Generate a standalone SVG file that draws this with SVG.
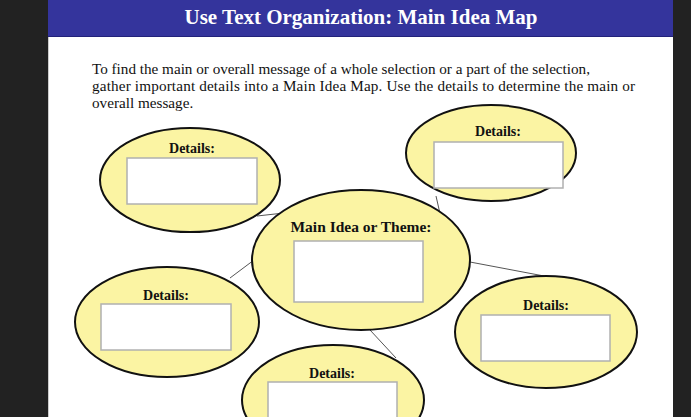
<svg xmlns="http://www.w3.org/2000/svg" width="691" height="417" viewBox="0 0 691 417">
<style>
.bg{fill:#222222}
.hdr{fill:#34349c}
.title{font-family:"Liberation Serif",serif;font-weight:bold;font-size:21px;fill:#ffffff;text-anchor:middle}
.intro{font-family:"Liberation Serif",serif;font-size:15.2px;fill:#111111}
.ell{fill:#fbf4a3;stroke:#111111;stroke-width:2}
.lbl{font-family:"Liberation Serif",serif;font-weight:bold;font-size:14px;fill:#111111;text-anchor:middle}
.mlbl{font-family:"Liberation Serif",serif;font-weight:bold;font-size:15.5px;fill:#111111;text-anchor:middle}
.box{fill:#ffffff;stroke:#b0b0b0;stroke-width:1.5}
.conn line{stroke:#555555;stroke-width:1}
</style>
<rect class="bg" x="0" y="0" width="691" height="417"/>
<rect x="48" y="0" width="625" height="417" fill="#ffffff"/>
<line x1="48.5" y1="37" x2="48.5" y2="417" stroke="#cccccc" stroke-width="1"/>
<rect class="hdr" x="48" y="0" width="625" height="37"/>
<line x1="48" y1="36.5" x2="673" y2="36.5" stroke="#22227a" stroke-width="1"/>
<text class="title" x="361" y="24">Use Text Organization: Main Idea Map</text>
<text class="intro" x="92" y="74" textLength="498">To find the main or overall message of a whole selection or a part of the selection,</text>
<text class="intro" x="92" y="91" textLength="543">gather important details into a Main Idea Map. Use the details to determine the main or</text>
<text class="intro" x="92" y="108">overall message.</text>
<g class="conn">
<line x1="257" y1="216" x2="284" y2="213"/>
<line x1="436" y1="196" x2="441" y2="218"/>
<line x1="230" y1="278" x2="254" y2="260"/>
<line x1="470" y1="262" x2="544" y2="276"/>
<line x1="370" y1="330" x2="396" y2="358"/>
</g>
<g id="details-top-left">
<ellipse class="ell" cx="190" cy="180" rx="90" ry="52"/>
<text class="lbl" x="192" y="153">Details:</text>
<rect class="box" x="127" y="158" width="130" height="46"/>
</g>
<g id="details-top-right">
<ellipse class="ell" cx="491" cy="153" rx="85" ry="48"/>
<text class="lbl" x="498" y="136">Details:</text>
<rect class="box" x="434" y="142" width="129" height="46"/>
</g>
<g id="main-idea">
<ellipse class="ell" cx="361" cy="260" rx="109" ry="70"/>
<text class="mlbl" x="361" y="232">Main Idea or Theme:</text>
<rect class="box" x="294" y="241" width="129" height="61"/>
</g>
<g id="details-left">
<ellipse class="ell" cx="167" cy="322" rx="92" ry="55"/>
<text class="lbl" x="166" y="300">Details:</text>
<rect class="box" x="101" y="304" width="130" height="46"/>
</g>
<g id="details-right">
<ellipse class="ell" cx="546" cy="332" rx="91" ry="56"/>
<text class="lbl" x="546" y="310">Details:</text>
<rect class="box" x="481" y="315" width="129" height="46"/>
</g>
<g id="details-bottom">
<ellipse class="ell" cx="333" cy="400" rx="91" ry="55"/>
<text class="lbl" x="332" y="378">Details:</text>
<rect class="box" x="268" y="382" width="129" height="46"/>
</g>
</svg>
